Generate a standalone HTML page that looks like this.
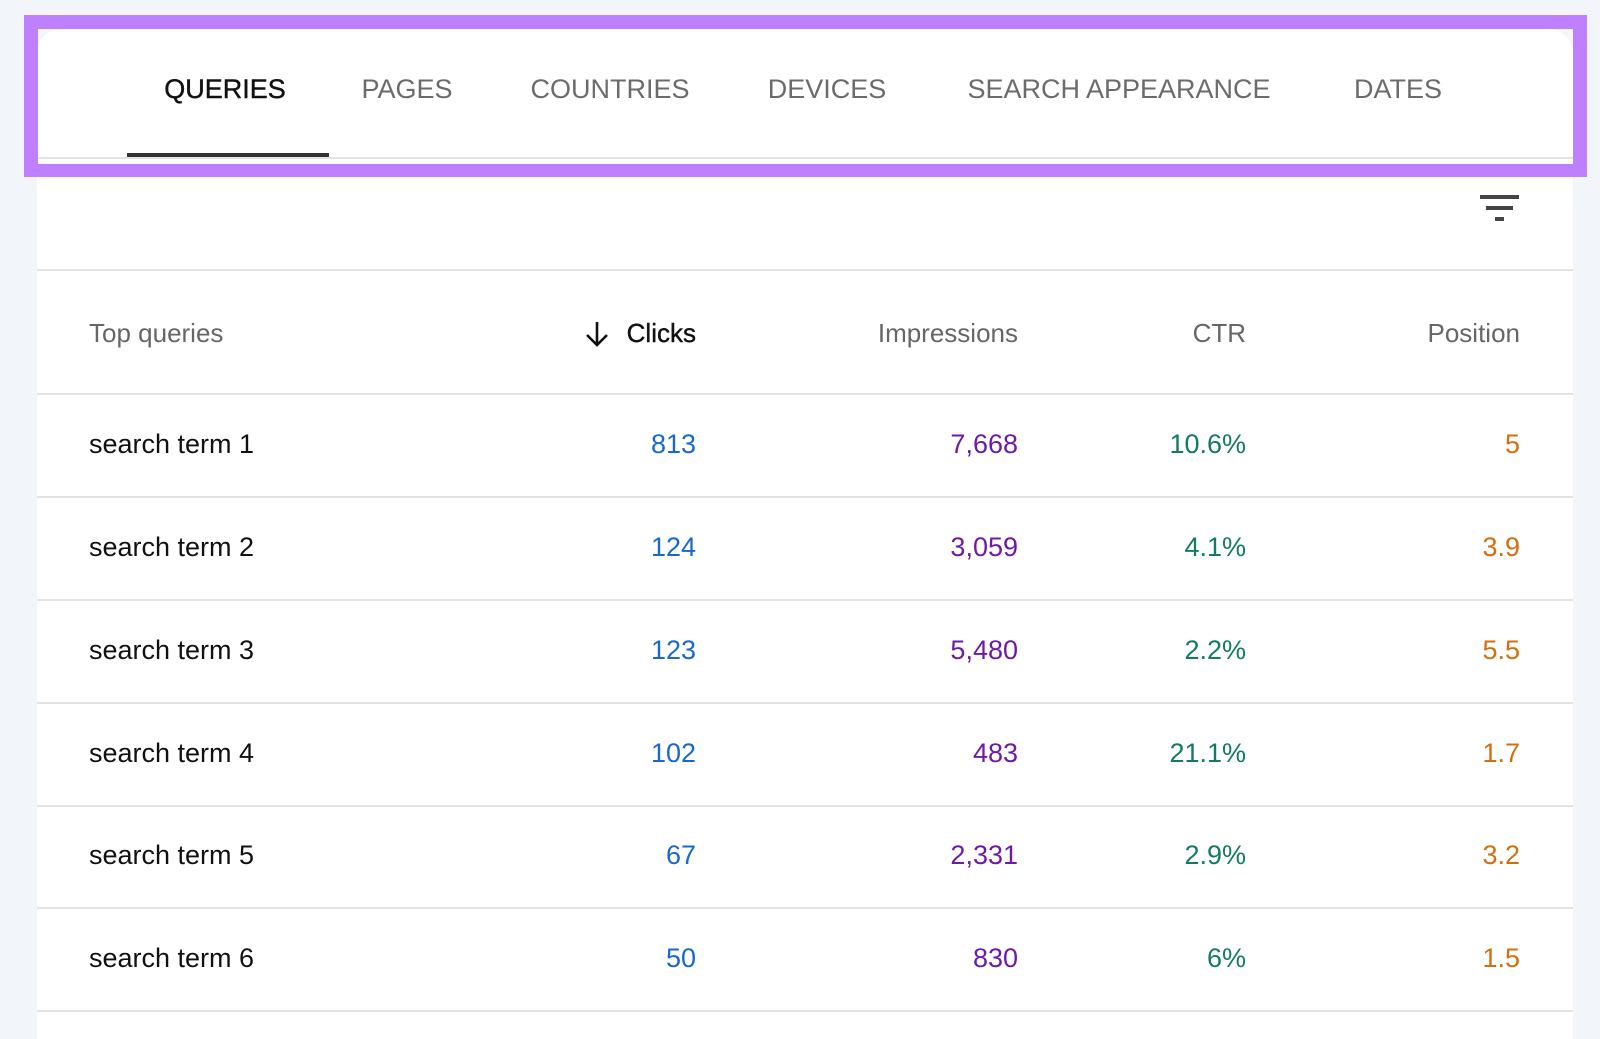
<!DOCTYPE html>
<html><head><meta charset="utf-8"><style>
body{margin:0;width:1600px;height:1029px;background:#f2f5fa;position:relative;overflow:hidden;font-family:"Liberation Sans",sans-serif;}
.card{position:absolute;left:37px;top:29px;width:1536px;height:1010px;background:#fff;border-top-left-radius:24px;border-top-right-radius:24px;}
.frame{position:absolute;left:24px;top:15px;width:1535px;height:135px;border:14px solid #bf80ff;border-top-width:14px;border-bottom-width:13px;}
.tab{position:absolute;top:72px;font-size:27px;color:#6b6b6b;transform:translateX(-50%);white-space:nowrap;line-height:34px;}
.t{position:absolute;white-space:nowrap;line-height:30px;}
.hr{position:absolute;left:37px;width:1536px;height:2px;background:#e3e3e3;}
.r{text-align:right;transform:translateX(-100%);}
</style></head><body>
<div class="card"></div>
<div class="hr" style="top:157px;height:2px"></div>
<div style="position:absolute;left:127px;top:153px;width:202px;height:4px;background:#333"></div>
<div class="frame"></div>
<div class="tab" style="left:225px;color:#111;-webkit-text-stroke:0.4px #111">QUERIES</div>
<div class="tab" style="left:407px">PAGES</div>
<div class="tab" style="left:610px">COUNTRIES</div>
<div class="tab" style="left:827px">DEVICES</div>
<div class="tab" style="left:1119px">SEARCH APPEARANCE</div>
<div class="tab" style="left:1398px">DATES</div>
<div style="position:absolute;left:1480px;top:195px;width:39px;height:4px;background:#444"></div>
<div style="position:absolute;left:1486px;top:206px;width:27px;height:4px;background:#444"></div>
<div style="position:absolute;left:1495px;top:217px;width:9px;height:4px;background:#444"></div>
<div class="hr" style="top:269px"></div>
<div class="t" style="left:89px;top:318px;font-size:26px;color:#666">Top queries</div>
<svg style="position:absolute;left:584px;top:320px" width="26" height="28" viewBox="0 0 26 28"><path d="M13 2V25M3 15L13 25L23 15" stroke="#111" stroke-width="2.6" fill="none"/></svg>
<div class="t r" style="left:696px;top:318px;font-size:26px;color:#111;-webkit-text-stroke:0.4px #111">Clicks</div>
<div class="t r" style="left:1018px;top:318px;font-size:26px;color:#666">Impressions</div>
<div class="t r" style="left:1246px;top:318px;font-size:26px;color:#666">CTR</div>
<div class="t r" style="left:1520px;top:318px;font-size:26px;color:#666">Position</div>
<div class="hr" style="top:393px"></div>
<div id="rows"></div>
<script>
var d=[["813","7,668","10.6%","5"],["124","3,059","4.1%","3.9"],["123","5,480","2.2%","5.5"],["102","483","21.1%","1.7"],["67","2,331","2.9%","3.2"],["50","830","6%","1.5"]];
var h="";var tops=[393,496,599,702,805,907,1010];
for(var i=0;i<6;i++){var c=(tops[i]+tops[i+1])/2-16;
h+='<div class="t" style="left:89px;top:'+c+'px;font-size:27px;color:#111">search term '+(i+1)+'</div>';
h+='<div class="t r" style="left:696px;top:'+c+'px;font-size:27px;color:#1967d2">'+d[i][0]+'</div>';
h+='<div class="t r" style="left:1018px;top:'+c+'px;font-size:27px;color:#6e1aa6">'+d[i][1]+'</div>';
h+='<div class="t r" style="left:1246px;top:'+c+'px;font-size:27px;color:#137a63">'+d[i][2]+'</div>';
h+='<div class="t r" style="left:1520px;top:'+c+'px;font-size:27px;color:#d56e0c">'+d[i][3]+'</div>';
h+='<div class="hr" style="top:'+tops[i+1]+'px"></div>';}
document.getElementById("rows").innerHTML=h;
</script>
</body></html>
